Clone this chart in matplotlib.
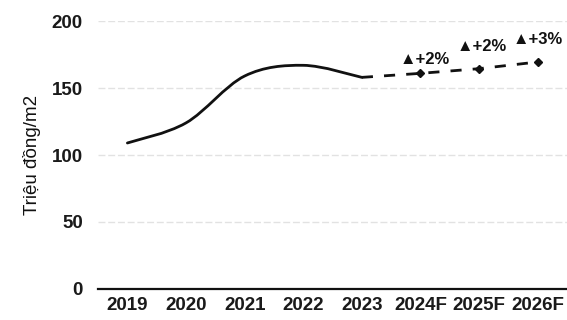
import matplotlib
matplotlib.use("Agg")
import matplotlib.pyplot as plt
from matplotlib.path import Path
from matplotlib.patches import PathPatch
import numpy as np

plt.rcParams['font.family'] = ['Liberation Sans', 'DejaVu Sans']

years = ['2019', '2020', '2021', '2022', '2023', '2024F', '2025F', '2026F']
actual = [109, 124, 159, 167, 158]          # triệu đồng/m2
forecast = [158, 161, 164.5, 169.5]        # 2023 -> 2026F
growth = ['+2%', '+2%', '+3%']
label_offsets = [(-15, 10), (-16, 16), (-18, 16)]

fig = plt.figure(figsize=(5.67, 3.2), dpi=100)
ax = fig.add_axes([0.173, 0.097, 0.827, 0.837])

# smoothed line through the actual values (cubic bezier segments)
xa = np.arange(len(actual), dtype=float)
ya = np.array(actual, dtype=float)
verts = [(xa[0], ya[0])]
codes = [Path.MOVETO]
n = len(xa)
for i in range(n - 1):
    p0 = i - 1 if i > 0 else i
    p3 = i + 2 if i + 2 < n else i + 1
    c1 = (xa[i] + (xa[i + 1] - xa[p0]) / 6, ya[i] + (ya[i + 1] - ya[p0]) / 6)
    c2 = (xa[i + 1] - (xa[p3] - xa[i]) / 6, ya[i + 1] - (ya[p3] - ya[i]) / 6)
    verts += [c1, c2, (xa[i + 1], ya[i + 1])]
    codes += [Path.CURVE4] * 3
ax.add_patch(PathPatch(Path(verts, codes), fill=False, lw=2.0, color='#111111',
                       capstyle='round', zorder=3))

# forecast dashed line
xf = np.arange(len(actual) - 1, len(years))
ax.plot(xf, forecast, color='#111111', lw=2.0, dashes=(4, 4), zorder=3)
ax.plot(xf[1:], forecast[1:], ls='none', marker='D', ms=4.5, color='#111111', zorder=4)

for x, v, g, off in zip(xf[1:], forecast[1:], growth, label_offsets):
    ax.annotate('\u25B2' + g, xy=(x, v), xytext=off, textcoords='offset points',
                ha='left', va='center', fontsize=12, fontweight='bold',
                color='#111111', annotation_clip=False)

ax.set_xlim(-0.5, len(years) - 0.5)
ax.set_ylim(0, 200)
ax.set_yticks([0, 50, 100, 150, 200])
ax.set_xticks(range(len(years)))
ax.set_xticklabels(years)
ax.tick_params(length=0, labelsize=13.5, colors='#1a1a1a', pad=6)
ax.tick_params(axis='y', pad=11)
for lab in ax.get_xticklabels() + ax.get_yticklabels():
    lab.set_fontweight('bold')

ax.grid(axis='y', color='#e2e2e2', lw=1.0, ls=(0, (5, 2)))
ax.set_axisbelow(True)
for s in ['top', 'right', 'left']:
    ax.spines[s].set_visible(False)
ax.spines['bottom'].set_color('#111111')
ax.spines['bottom'].set_linewidth(1.6)

ax.set_ylabel('Triệu đồng/m2', fontsize=13.5, color='#111111', labelpad=8)

fig.savefig('out.png', dpi=100)
